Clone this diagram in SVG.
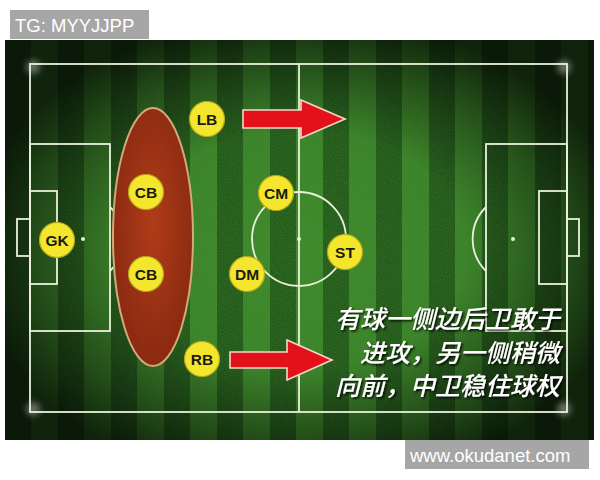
<svg xmlns="http://www.w3.org/2000/svg" width="600" height="480" viewBox="0 0 600 480">
<defs>
<style>
.line{fill:none;stroke:#e8f2dc;stroke-width:1.8;}
.player circle{fill:#f3e62c;stroke:#b8a81a;stroke-width:1.2;}
.player text{font-family:"Liberation Sans",Arial,sans-serif;font-weight:bold;font-size:15.5px;fill:#1a1a10;text-anchor:middle;}
.arrow{fill:#e3121a;stroke:#f4d8c8;stroke-width:1.6;stroke-linejoin:miter;}
.cn{font-family:"Noto Sans CJK SC","Noto Sans",sans-serif;font-size:25px;font-style:italic;font-weight:500;fill:#ffffff;text-anchor:end;}
.wm{font-family:"Liberation Sans",Arial,sans-serif;fill:#ffffff;}
</style>
<pattern id="stripes" x="5" y="0" width="53" height="480" patternUnits="userSpaceOnUse">
<rect x="0" y="0" width="26" height="480" fill="#22591a"/>
<rect x="26" y="0" width="27" height="480" fill="#3c882a"/>
</pattern>
<radialGradient id="vig" cx="300" cy="250" r="330" gradientUnits="userSpaceOnUse" gradientTransform="translate(300 250) scale(1 0.72) translate(-300 -250)">
<stop offset="0" stop-color="#000" stop-opacity="0"/>
<stop offset="0.5" stop-color="#000" stop-opacity="0.05"/>
<stop offset="0.8" stop-color="#000" stop-opacity="0.45"/>
<stop offset="1" stop-color="#000" stop-opacity="0.75"/>
</radialGradient>
<radialGradient id="redfill" cx="0.5" cy="0.45" r="0.6">
<stop offset="0" stop-color="#b03c18"/>
<stop offset="1" stop-color="#862810"/>
</radialGradient>
<filter id="noise" x="0" y="0" width="1" height="1">
<feTurbulence type="fractalNoise" baseFrequency="0.9" numOctaves="2" seed="3" result="n"/>
<feColorMatrix in="n" type="matrix" values="0 0 0 0 0.1  0 0 0 0 0.35  0 0 0 0 0.05  0 0 0 -1.4 1.1" result="m"/>
<feComposite in="m" in2="SourceGraphic" operator="in"/>
</filter>
<filter id="shadow" x="-10%" y="-30%" width="120%" height="160%">
<feDropShadow dx="1.5" dy="1.5" stdDeviation="1" flood-color="#000" flood-opacity="0.9"/>
</filter>
<filter id="soft" x="-50%" y="-50%" width="200%" height="200%">
<feGaussianBlur stdDeviation="3"/>
</filter>
</defs>
<rect x="0" y="0" width="600" height="480" fill="#ffffff"/>
<g id="pitch">
<rect x="5" y="40" width="589" height="400" fill="url(#stripes)"/>
<rect x="5" y="40" width="589" height="400" fill="#000" filter="url(#noise)" opacity="0.35"/>
<rect x="5" y="40" width="589" height="400" fill="url(#vig)"/>
<circle cx="33" cy="67" r="7" fill="#bbbbbb" opacity="0.5" filter="url(#soft)"/>
<circle cx="564" cy="67" r="7" fill="#bbbbbb" opacity="0.5" filter="url(#soft)"/>
<circle cx="33" cy="409" r="7" fill="#bbbbbb" opacity="0.5" filter="url(#soft)"/>
<circle cx="564" cy="409" r="7" fill="#bbbbbb" opacity="0.5" filter="url(#soft)"/>
<rect class="line" x="30" y="64" width="537" height="348"/>
<line class="line" x1="299" y1="64" x2="299" y2="412"/>
<circle class="line" cx="299" cy="239" r="47"/>
<circle cx="299" cy="239" r="2" fill="#e8f2dc"/>
<rect class="line" x="30" y="144" width="80" height="187"/>
<rect class="line" x="30" y="191" width="27" height="93"/>
<rect class="line" x="17" y="219" width="13" height="37"/>
<circle cx="83" cy="239" r="2" fill="#e8f2dc"/>
<path class="line" d="M110 207 A45 45 0 0 1 110 271"/>
<rect class="line" x="486" y="144" width="81" height="187"/>
<rect class="line" x="539" y="191" width="28" height="93"/>
<rect class="line" x="567" y="219" width="12" height="37"/>
<circle cx="513" cy="239" r="2" fill="#e8f2dc"/>
<path class="line" d="M486 207 A45 45 0 0 0 486 271"/>
</g>
<g id="zone">
<ellipse cx="153" cy="237" rx="40" ry="129" fill="url(#redfill)" stroke="#d2aa7a" stroke-width="2"/>
</g>
<g id="connectors">
<path class="arrow" d="M243 110 L301 110 L301 100 L345 119 L301 138 L301 128 L243 128 Z"/>
<path class="arrow" d="M230 352 L287 352 L287 340 L332 360 L287 380 L287 368 L230 368 Z"/>
</g>
<g id="LB" class="player"><circle cx="207" cy="119" r="17.5"/><text x="207" y="124.5">LB</text></g>
<g id="CB1" class="player"><circle cx="146" cy="192" r="17.5"/><text x="146" y="197.5">CB</text></g>
<g id="CM" class="player"><circle cx="276" cy="193" r="17.5"/><text x="276" y="198.5">CM</text></g>
<g id="GK" class="player"><circle cx="57" cy="240" r="17.5"/><text x="57" y="245.5">GK</text></g>
<g id="ST" class="player"><circle cx="345" cy="252" r="17.5"/><text x="345" y="257.5">ST</text></g>
<g id="CB2" class="player"><circle cx="146" cy="274" r="17.5"/><text x="146" y="279.5">CB</text></g>
<g id="DM" class="player"><circle cx="247" cy="274" r="17.5"/><text x="247" y="279.5">DM</text></g>
<g id="RB" class="player"><circle cx="202" cy="359" r="17.5"/><text x="202" y="364.5">RB</text></g>
<g id="caption" filter="url(#shadow)">
<text class="cn" x="560" y="328">有球一侧边后卫敢于</text>
<text class="cn" x="560" y="362">进攻，另一侧稍微</text>
<text class="cn" x="560" y="395">向前，中卫稳住球权</text>
</g>
<g id="tag">
<rect x="10" y="10" width="139" height="29" fill="#a6a6a6"/>
<text class="wm" x="15" y="32" font-size="18.5">TG: MYYJJPP</text>
</g>
<g id="watermark">
<rect x="405" y="440" width="184" height="29" fill="#a6a6a6"/>
<text class="wm" x="410" y="462" font-size="18.5">www.okudanet.com</text>
</g>
</svg>
